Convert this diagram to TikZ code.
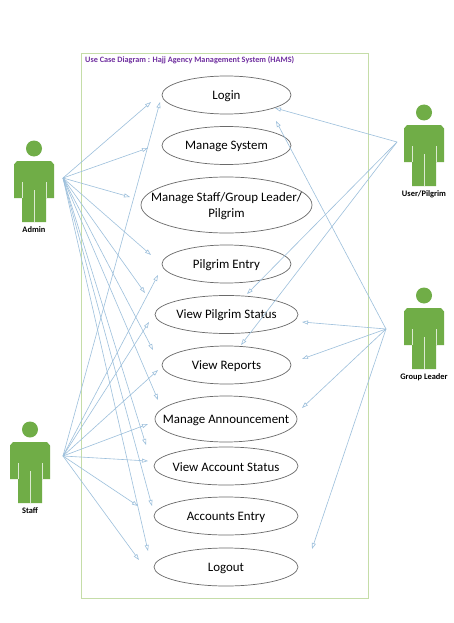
\documentclass[tikz,border=0pt]{standalone}
\usepackage{fontspec}
\setmainfont{Carlito}
\usetikzlibrary{shapes.geometric,arrows.meta}
\definecolor{actorgreen}{HTML}{70AD47}
\definecolor{framegreen}{HTML}{C5DDA8}
\definecolor{linkblue}{HTML}{9DC0DC}
\definecolor{titlepurple}{HTML}{7030A0}
\definecolor{ovalgrey}{HTML}{6A6A6A}
\tikzset{
  usecase/.style={draw=ovalgrey,line width=0.7pt,ellipse,inner sep=0pt},
  casetext/.style={align=center,font=\fontsize{12.9}{16}\selectfont,text=black,inner sep=0pt,yshift=-1pt},
  link/.style={draw=linkblue,line width=0.6pt,-{Triangle[open,length=6pt,width=4pt]}},
  actorlabel/.style={font=\fontsize{8.4}{10}\selectfont\bfseries,text=black,inner sep=0pt},
  seam/.style={draw=white!75!actorgreen,line width=0.7pt}
}
% \actorfig{name}{centre x}{shoulder y}{label}
\newcommand{\actorfig}[4]{%
  \begin{scope}[shift={(#2,#3)}]
    \fill[actorgreen] (0,-12.5) circle[radius=8];
    \fill[actorgreen] (-17,0) -- (17,0) -- (20,3.5) -- (20,37) -- (12,37) -- (12,61) -- (-12,61) -- (-12,37) -- (-20,37) -- (-20,3.5) -- cycle;
    \draw[seam] (-12,21) -- (-12,37);
    \draw[seam] (12,21) -- (12,37);
    \draw[seam] (0,29) -- (0,61);
    \node[actorlabel] (#1) at (0,69) {#4};
  \end{scope}}
\begin{document}
\begin{tikzpicture}[x=1pt,y=-1pt]
\useasboundingbox[fill=white] (0,0) rectangle (454,623);
\node[draw=framegreen,line width=0.9pt,minimum width=287pt,minimum height=545pt,inner sep=0pt] (frame) at (225,326) {};
\node[anchor=west,inner sep=0pt,text=titlepurple,font=\fontsize{8.2}{10}\selectfont\bfseries] (title) at (85,60) {Use Case Diagram : Hajj Agency Management System (HAMS)};

\node[usecase,minimum width=129pt,minimum height=38pt,label={[casetext]center:Login}] (login) at (226.5,95) {};
\node[usecase,minimum width=129pt,minimum height=38pt,label={[casetext]center:Manage System}] (system) at (226.5,145.5) {};
\node[usecase,minimum width=171pt,minimum height=56pt,label={[casetext]center:{Manage Staff/Group Leader/\\Pilgrim}}] (staffmgmt) at (226.5,205) {};
\node[usecase,minimum width=129pt,minimum height=38pt,label={[casetext]center:Pilgrim Entry}] (entry) at (226.5,264) {};
\node[usecase,minimum width=143pt,minimum height=38pt,label={[casetext]center:View Pilgrim Status}] (status) at (226.5,314.5) {};
\node[usecase,minimum width=129pt,minimum height=38pt,label={[casetext]center:View Reports}] (reports) at (226.5,365) {};
\node[usecase,minimum width=142pt,minimum height=46pt,label={[casetext]center:Manage Announcement}] (announce) at (226,419) {};
\node[usecase,minimum width=144pt,minimum height=38pt,label={[casetext]center:View Account Status}] (account) at (226,466) {};
\node[usecase,minimum width=144pt,minimum height=38pt,label={[casetext]center:Accounts Entry}] (accentry) at (226,516) {};
\node[usecase,minimum width=144pt,minimum height=38pt,label={[casetext]center:Logout}] (logout) at (226,567) {};

\actorfig{admin}{34}{161}{Admin}
\actorfig{staff}{30}{442}{Staff}
\actorfig{user}{424}{125}{User/Pilgrim}
\actorfig{group}{424}{308}{Group Leader}

\coordinate (adminhand) at (63,178);
\coordinate (staffhand) at (63,456);
\coordinate (userhand) at (397,142);
\coordinate (grouphand) at (386,329);

\foreach \n/\x/\y in {a1/151/102,a2/148/148,a3/130/197,a4/151/255,a5/145/293,a6/153/350,a7/158/400,a8/146/445,a9/152/506,a10/148/551,
  s1/160/102,s2/158/275,s3/149/322,s4/158/370,s5/148/424,s6/148/461,s7/138/506,s8/139/560,
  u1/275/108,u2/247/294,u3/241/345,
  g1/276/121,g2/302/322,g3/302/359,g4/302/408,g5/312/549}
  {\coordinate (\n) at (\x,\y);}

\foreach \e in {a1,a2,a3,a4,a5,a6,a7,a8,a9,a10} {\draw[link] (adminhand) -- (\e);}
\foreach \e in {s1,s2,s3,s4,s5,s6,s7,s8} {\draw[link] (staffhand) -- (\e);}
\foreach \e in {u1,u2,u3} {\draw[link] (userhand) -- (\e);}
\foreach \e in {g1,g2,g3,g4,g5} {\draw[link] (grouphand) -- (\e);}
\end{tikzpicture}
\end{document}
